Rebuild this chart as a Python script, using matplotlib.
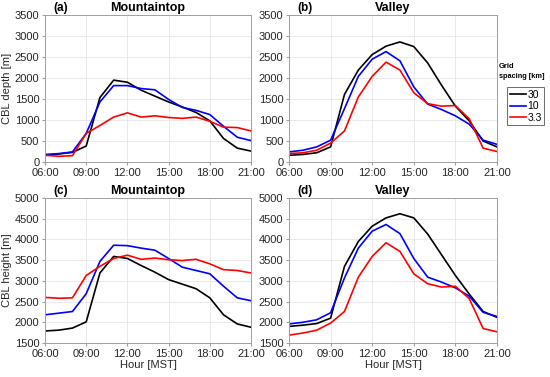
import matplotlib.pyplot as plt
import numpy as np

plt.rcParams['font.family'] = ['Liberation Sans', 'DejaVu Sans']

hours = np.arange(6, 22)
tick_hours = [6, 9, 12, 15, 18, 21]
tick_labels = ['06:00', '09:00', '12:00', '15:00', '18:00', '21:00']
grid_labels = ['30', '10', '3.3']
colors = ['black', 'blue', 'red']

# (a) Mountaintop CBL depth
a_30 = [160, 190, 230, 380, 1535, 1950, 1900, 1710, 1570, 1430, 1310, 1180, 980, 560, 330, 260]
a_10 = [180, 200, 240, 680, 1430, 1820, 1820, 1750, 1720, 1490, 1300, 1230, 1130, 850, 590, 510]
a_33 = [160, 135, 150, 680, 870, 1070, 1170, 1070, 1100, 1060, 1040, 1070, 970, 830, 820, 740]

# (b) Valley CBL depth
b_30 = [160, 180, 220, 360, 1610, 2190, 2560, 2760, 2860, 2750, 2360, 1830, 1330, 980, 500, 360]
b_10 = [240, 280, 360, 520, 1270, 2040, 2450, 2630, 2410, 1790, 1380, 1250, 1100, 900, 520, 420]
b_33 = [200, 220, 280, 450, 740, 1550, 2040, 2380, 2190, 1650, 1390, 1330, 1345, 1030, 330, 250]

# (c) Mountaintop CBL height
c_30 = [1790, 1810, 1860, 2010, 3190, 3590, 3540, 3370, 3210, 3030, 2920, 2810, 2590, 2180, 1960, 1880]
c_10 = [2180, 2220, 2260, 2690, 3470, 3860, 3850, 3790, 3740, 3540, 3330, 3250, 3170, 2870, 2590, 2520]
c_33 = [2600, 2580, 2590, 3130, 3350, 3540, 3620, 3520, 3550, 3510, 3490, 3520, 3410, 3270, 3250, 3190]

# (d) Valley CBL height
d_30 = [1900, 1930, 1970, 2100, 3350, 3950, 4320, 4520, 4620, 4520, 4130, 3630, 3130, 2680, 2260, 2120]
d_10 = [1960, 2000, 2060, 2230, 3070, 3790, 4200, 4360, 4140, 3540, 3090, 2970, 2830, 2630, 2240, 2140]
d_33 = [1690, 1740, 1810, 1980, 2260, 3090, 3590, 3920, 3710, 3170, 2930, 2850, 2870, 2570, 1850, 1770]

fig = plt.figure(figsize=(5.5, 3.77), dpi=100)

panels = [
    ([0.0818, 0.5703, 0.3746, 0.3897], [a_30, a_10, a_33], '(a)', 'Mountaintop', 'CBL depth [m]', (0, 3500), False),
    ([0.5255, 0.5703, 0.3781, 0.3897], [b_30, b_10, b_33], '(b)', 'Valley', None, (0, 3500), False),
    ([0.0818, 0.0902, 0.3746, 0.3846], [c_30, c_10, c_33], '(c)', 'Mountaintop', 'CBL height [m]', (1500, 5000), True),
    ([0.5255, 0.0902, 0.3781, 0.3846], [d_30, d_10, d_33], '(d)', 'Valley', None, (1500, 5000), True),
]

handles = []
for rect, series, tag, title, ylabel, ylim, xlab in panels:
    ax = fig.add_axes(rect)
    lines = []
    for vals, c, lab in zip(series, colors, grid_labels):
        ln, = ax.plot(hours, vals, color=c, lw=1.2, label=lab)
        lines.append(ln)
    if tag == '(b)':
        handles = lines
    ax.set_xlim(6, 21)
    ax.set_ylim(*ylim)
    ax.set_xticks(tick_hours)
    ax.set_xticklabels(tick_labels)
    ax.set_yticks(np.arange(ylim[0], ylim[1] + 1, 500))
    ax.grid(True, color='#e6e6e6', lw=0.6)
    ax.set_axisbelow(True)
    for s in ax.spines.values():
        s.set_color('#a0a0a0')
        s.set_linewidth(0.7)
    ax.tick_params(labelsize=8, length=2, color='#a0a0a0', labelcolor='#262626', pad=2)
    ax.set_title(title, fontsize=9, fontweight='bold', pad=3)
    ax.text(0.04, 1.008, tag, transform=ax.transAxes, fontsize=8.5, fontweight='bold', va='bottom')
    if ylabel:
        ax.set_ylabel(ylabel, fontsize=8, color='#262626', labelpad=2)
    if xlab:
        ax.set_xlabel('Hour [MST]', fontsize=8, color='#262626', labelpad=1)

# legend title sits above the box
fig.text(499 / 550, 1 - 66 / 377, 'Grid', fontsize=5.5, fontweight='bold', ha='left', va='center')
fig.text(499 / 550, 1 - 76 / 377, 'spacing [km]', fontsize=5.3, fontweight='bold', ha='left', va='center')
leg = fig.legend(handles, grid_labels, loc='upper left', bbox_to_anchor=(507 / 550, 1 - 87 / 377),
                 fontsize=7.5, handlelength=1.6, handletextpad=0.1, borderpad=0.25,
                 labelspacing=0.15, borderaxespad=0, fancybox=False, framealpha=1)
leg.get_frame().set_edgecolor('#555555')
leg.get_frame().set_linewidth(0.6)

fig.savefig('out.png', dpi=100)
